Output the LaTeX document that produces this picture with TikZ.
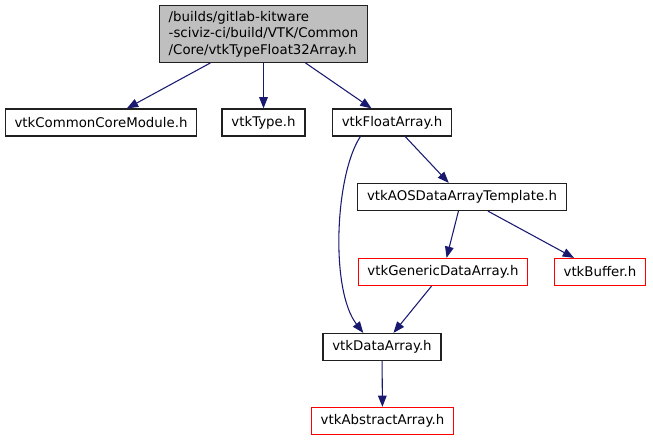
\documentclass[tikz,border=0pt]{standalone}
\usepackage{fontspec}
\setmainfont{DejaVu Sans}
\usetikzlibrary{arrows.meta}
\definecolor{midnight}{HTML}{191970}
\definecolor{nodeline}{HTML}{202020}
\definecolor{rootfill}{HTML}{BFBFBF}

\begin{document}
\begin{tikzpicture}[
      x=0.75pt, y=-0.75pt,
      box/.style={draw=nodeline, line width=0.9pt, minimum height=20.25pt,
      inner xsep=7pt, inner ysep=2pt, font=\fontsize{10}{12.4}\selectfont},
      redbox/.style={box, draw=red},
      flow/.style={-{Triangle[length=8.5pt,width=6.5pt]}, draw=midnight,
      fill=none, line width=0.8pt}
    ]
    \useasboundingbox (0,0) rectangle (653,440);
    \node[box, fill=rootfill, align=left, inner ysep=4pt] (root) at (263.5,34)
      {/builds/gitlab-kitware\\-sciviz-ci/build/VTK/Common\\/Core/vtkTypeFloat32Array.h};
    \node[box] (module) at (101,122.5) {vtkCommonCoreModule.h};
    \node[box] (type) at (263.5,122.5) {vtkType.h};
    \node[box] (float) at (392,122.5) {vtkFloatArray.h};
    \node[box] (aos) at (462,197) {vtkAOSDataArrayTemplate.h};
    \node[redbox] (generic) at (443,272) {vtkGenericDataArray.h};
    \node[redbox] (buffer) at (600,272) {vtkBuffer.h};
    \node[box] (data) at (382,347) {vtkDataArray.h};
    \node[redbox] (abstract) at (382.5,421) {vtkAbstractArray.h};
    \draw[flow] (root) -- (module);
    \draw[flow] (root) -- (type);
    \draw[flow] (root) -- (float);
    \draw[flow] (float) -- (aos);
    \draw[flow] (float.-156) .. controls (335,175) and (330,290) .. (data.143);
    \draw[flow] (aos) -- (generic);
    \draw[flow] (aos) -- (buffer);
    \draw[flow] (generic) -- (data);
    \draw[flow] (data) -- (abstract);
  \end{tikzpicture}
\end{document}
